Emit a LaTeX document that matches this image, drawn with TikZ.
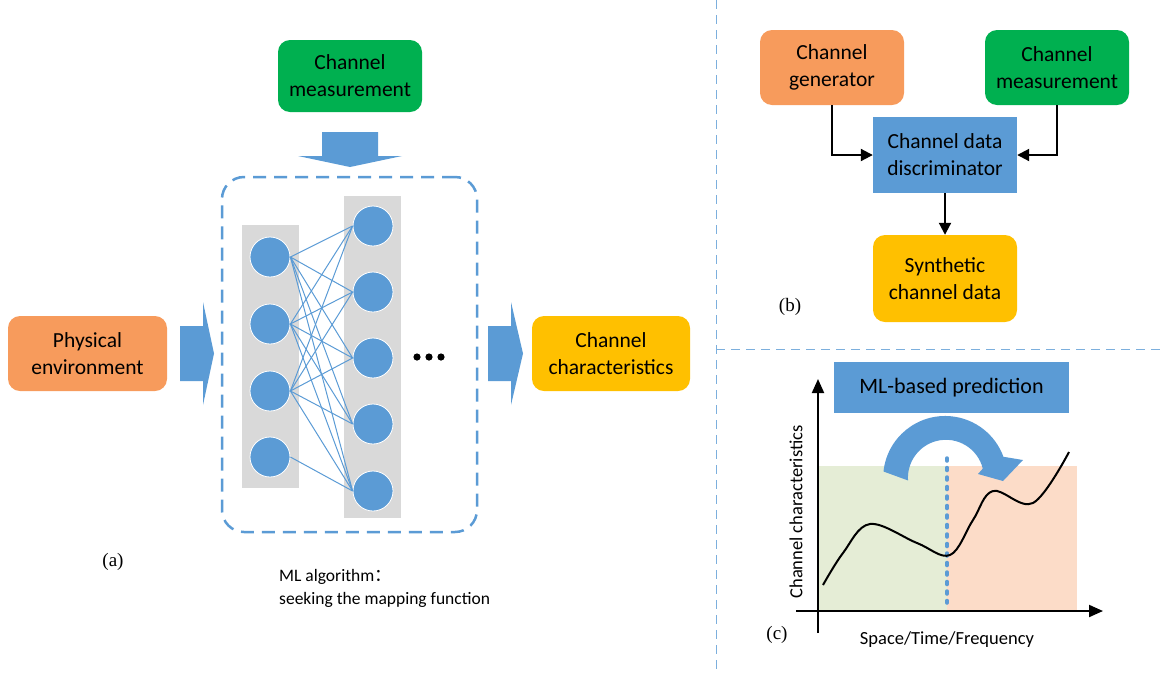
\documentclass[tikz,border=0pt]{standalone}
\usepackage{fontspec}
\setmainfont{Carlito}
\newfontfamily\seriffont{Liberation Serif}
\newfontfamily\cjk{Noto Sans CJK SC}
\usetikzlibrary{arrows.meta}
\definecolor{cblue}{HTML}{5B9BD5}
\definecolor{cgreen}{HTML}{00B050}
\definecolor{corange}{HTML}{F79B5C}
\definecolor{cyellow}{HTML}{FFC000}
\definecolor{cgray}{HTML}{D9D9D9}
\definecolor{lgreen}{HTML}{E5EDD6}
\definecolor{lpeach}{HTML}{FCDCC8}
\begin{document}
\begin{tikzpicture}[x=1pt,y=-1pt,
  rbox/.style={rectangle, rounded corners=12pt, inner sep=0pt, align=center,
    font=\fontsize{21.5}{27}\selectfont},
  sbox/.style={rectangle, inner sep=0pt, align=center,
    font=\fontsize{21.5}{27}\selectfont},
  neuron/.style={circle, fill=cblue, draw=white, line width=0.8pt, minimum size=40pt, inner sep=0pt},
  column/.style={rectangle, fill=cgray, inner sep=0pt},
  link/.style={cblue, line width=1pt},
  divider/.style={cblue!80, line width=0.9pt, dash pattern=on 9pt off 6pt},
  flow/.style={black, line width=2pt, -{Triangle[length=12pt,width=12pt]}},
  axis/.style={black, line width=2pt, -{Triangle[length=14pt,width=12pt]}},
  panel/.style={font=\seriffont\fontsize{19}{22}\selectfont},
  note/.style={font=\fontsize{17.5}{23}\selectfont}]
\useasboundingbox (0,0) rectangle (1162,673);

% ---------------- dividers
\coordinate (vtop) at (716,0);
\coordinate (vbot) at (716,673);
\coordinate (hl) at (716,349);
\coordinate (hr) at (1162,349);
\draw[divider] (vtop) -- (vbot);
\draw[divider] (hl) -- (hr);

% ---------------- (a)
\node[rbox, fill=cgreen, minimum width=144pt, minimum height=72pt] (meas) at (350,76) {Channel\\measurement};
\node[rbox, fill=corange, minimum width=159pt, minimum height=75pt] (phys) at (87.5,353.5) {Physical\\environment};
\node[rbox, fill=cyellow, minimum width=158pt, minimum height=75pt] (charac) at (611,353.5) {Channel\\characteristics};

\node[rectangle, draw=cblue, line width=2.5pt, dash pattern=on 13pt off 8pt, rounded corners=22pt,
  minimum width=255pt, minimum height=355pt] (mlbox) at (349.5,354.5) {};

\node[column, minimum width=57pt, minimum height=263pt] (col1) at (270.5,356.5) {};
\node[column, minimum width=57pt, minimum height=322pt] (col2) at (372.5,357) {};

\foreach \i/\y in {1/257,2/324,3/391,4/457} \node[neuron] (l\i) at (270,\y) {};
\foreach \i/\y in {1/226,2/292,3/358,4/424,5/491} \node[neuron] (r\i) at (373,\y) {};

\foreach \i in {1,2,3} \foreach \j in {1,...,5} \draw[link] (l\i.east) -- (r\j.west);
\draw[link] (l4.east) -- (r5.west);

\foreach \x in {417,429,441} \fill[black] (\x,357) circle[radius=3.6];

% block arrows
\fill[cblue] (322,132) -- (378,132) -- (378,156) -- (402,156) -- (350,167) -- (298,156) -- (322,156) -- cycle;
\fill[cblue] (180,326) -- (203,326) -- (203,302) -- (214,353.5) -- (203,405) -- (203,381) -- (180,381) -- cycle;
\fill[cblue] (488,326) -- (511,326) -- (511,302) -- (523,353.5) -- (511,405) -- (511,381) -- (488,381) -- cycle;

\node[panel] (la) at (113,562) {(a)};
\node[note, align=left, anchor=north west, inner sep=0pt] (mltext) at (279,569) {ML algorithm{\cjk ：}\\seeking the mapping function};

% ---------------- (b)
\node[rbox, fill=corange, minimum width=144pt, minimum height=75pt] (gen) at (832,67.5) {Channel\\generator};
\node[rbox, fill=cgreen, minimum width=144pt, minimum height=75pt] (meas2) at (1057,67.5) {Channel\\measurement};
\node[sbox, fill=cblue, minimum width=144pt, minimum height=76pt] (disc) at (945,155) {Channel data\\discriminator};
\node[rbox, fill=cyellow, minimum width=144pt, minimum height=87pt] (synth) at (945,278.5) {Synthetic\\channel data};
\draw[flow] (gen.south) |- (disc.west);
\draw[flow] (meas2.south) |- (disc.east);
\draw[flow] (disc.south) -- (synth.north);
\node[panel] (lb) at (790,307) {(b)};

% ---------------- (c)
\fill[lgreen] (818,466) rectangle (947,611);
\fill[lpeach] (947,466) rectangle (1077,611);
\node[sbox, fill=cblue, minimum width=235pt, minimum height=51pt, font=\fontsize{22}{26}\selectfont] (pred) at (951.5,387.5) {ML-based prediction};

\coordinate (dtop) at (947,458);
\coordinate (dbot) at (947,603);
\draw[cblue, line width=3.5pt, line cap=round, dash pattern=on 3pt off 6.5pt] (dtop) -- (dbot);

\draw[black, line width=2pt] plot[smooth, tension=0.6] coordinates
  {(823,585) (843,553) (870,524) (917,543) (950,555) (973,520) (993,491) (1033,503) (1069,452)};

\fill[cblue] (883.5,471.5) arc[start angle=-174, end angle=-20, radius=62]
  -- (1023,460) -- (1003,481) -- (978,474) -- (982.8,468.6)
  arc[start angle=-14, end angle=-184, radius=38] -- cycle;

\coordinate (yb) at (818,633);
\coordinate (yt) at (818,379);
\coordinate (xl) at (796,611);
\coordinate (xr) at (1103,611);
\draw[axis] (yb) -- (yt);
\draw[axis] (xl) -- (xr);

\node[rotate=90, font=\fontsize{18.5}{22}\selectfont] (ylab) at (796,512) {Channel characteristics};
\node[font=\fontsize{18.5}{22}\selectfont] (xlab) at (947,640) {Space/Time/Frequency};
\node[panel] (lc) at (777,635) {(c)};
\end{tikzpicture}
\end{document}
